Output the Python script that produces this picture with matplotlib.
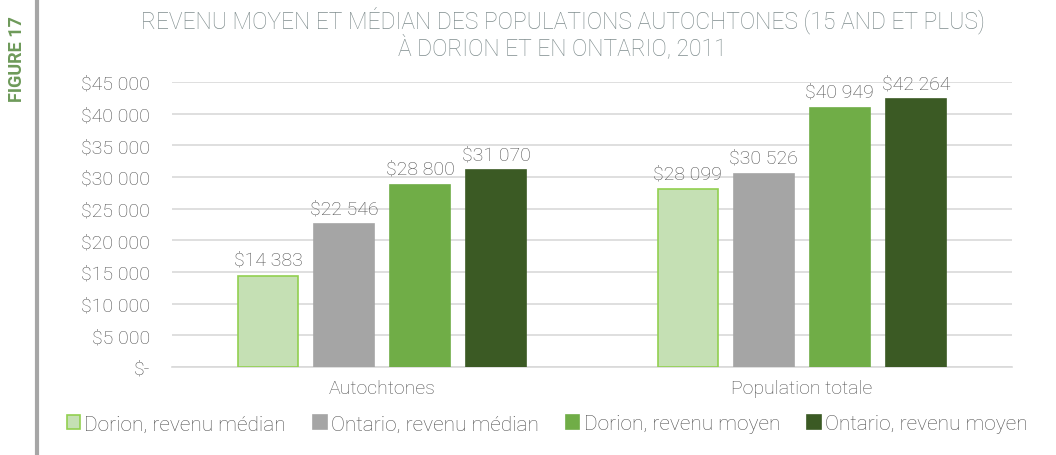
import matplotlib.pyplot as plt
import numpy as np
from matplotlib.ticker import FuncFormatter

categories = ['Autochtones', 'Population totale']
series = ['Dorion, revenu médian', 'Ontario, revenu médian',
          'Dorion, revenu moyen', 'Ontario, revenu moyen']
dorion_median = [14383, 28099]
ontario_median = [22546, 30526]
dorion_mean = [28800, 40949]
ontario_mean = [31070, 42264]

colors = ['#C5E0B4', '#A5A5A5', '#70AD47', '#3B5A24']
edges = ['#92D050', '#A5A5A5', '#70AD47', '#3B5A24']

plt.rcParams['font.family'] = ['Roboto', 'DejaVu Sans']
plt.rcParams['font.weight'] = 'light'

def money(v):
    if v == 0:
        return '$-'
    return '$' + f'{int(v):,}'.replace(',', ' ')

fig = plt.figure(figsize=(10.56, 4.56), dpi=100)
ax = fig.add_axes([0.163, 0.193, 0.795, 0.625])

x = np.arange(len(categories))
w = 0.143
step = 0.181
txt = '#505050'
for i, vals in enumerate([dorion_median, ontario_median, dorion_mean, ontario_mean]):
    pos = x + (i - 1.5) * step
    bars = ax.bar(pos, vals, w, color=colors[i], edgecolor=edges[i], linewidth=1.2,
                  label=series[i], zorder=3)
    for b, v in zip(bars, vals):
        ax.text(b.get_x() + b.get_width() / 2, v + 1100, money(v), ha='center',
                va='bottom', fontsize=14, color=txt)

ax.set_xlim(-0.5, 1.5)
ax.set_ylim(0, 45000)
ax.set_yticks(np.arange(0, 45001, 5000))
ax.yaxis.set_major_formatter(FuncFormatter(lambda v, p: money(v)))
ax.set_xticks(x)
ax.set_xticklabels(categories)
ax.tick_params(axis='y', length=0, pad=16, labelsize=14, labelcolor=txt)
ax.tick_params(axis='x', length=0, pad=9, labelsize=14, labelcolor=txt)
ax.grid(axis='y', color='#D9D9D9', linewidth=1.2, zorder=0)
for s in ['top', 'right', 'left']:
    ax.spines[s].set_visible(False)
ax.spines['bottom'].set_color('#D9D9D9')
ax.spines['bottom'].set_linewidth(1.2)

fig.text(0.533, 0.985, 'REVENU MOYEN ET MÉDIAN DES POPULATIONS AUTOCHTONES (15 AND ET PLUS)\nÀ DORION ET EN ONTARIO, 2011',
         ha='center', va='top', fontsize=16.5, color='#7F8C8D', linespacing=1.05)
fig.text(0.016, 0.87, 'FIGURE 17', rotation=90, ha='center', va='center',
         fontsize=13, fontweight='bold', color='#6E9A5A')
fig.add_artist(plt.Line2D([0.035, 0.035], [0, 1], color='#A6A6A6', linewidth=3,
                          transform=fig.transFigure))

fig.legend(loc='center', bbox_to_anchor=(0.518, 0.068), ncol=4, frameon=False,
           fontsize=15, handlelength=0.65, handleheight=0.65, handletextpad=0.2,
           columnspacing=1.3, labelcolor=txt)

fig.savefig('out.png', dpi=100)
